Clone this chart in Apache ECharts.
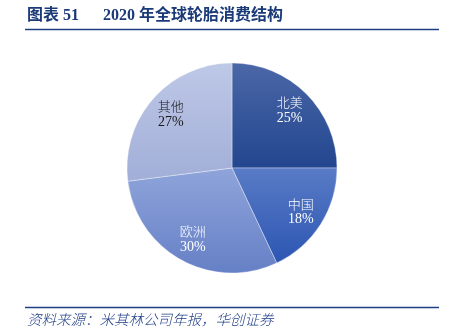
<!DOCTYPE html>
<html>
<head>
<meta charset="utf-8">
<script src="https://cdn.jsdelivr.net/npm/echarts@6/dist/echarts.min.js"></script>
<style>
html,body{margin:0;padding:0;background:#fff;}
#chart{width:454px;height:335px;}
</style>
</head>
<body>
<div id="chart"></div>
<script>
var categories = ['北美', '中国', '欧洲', '其他'];
var values = [25, 18, 30, 27];
var topColors = ['#4b67a7', '#5a7bc6', '#8ea4da', '#bec8e7'];
var bottomColors = ['#22468f', '#2b56b2', '#6680c6', '#a1aed7'];
var labelColors = ['#ffffff', '#ffffff', '#ffffff', '#1a1a1a'];

var chart = echarts.init(document.getElementById('chart'), null, {renderer: 'canvas'});

var fillData = categories.map(function (c, i) {
  return {
    name: c,
    value: values[i],
    itemStyle: {
      color: new echarts.graphic.LinearGradient(0, 0, 0, 1, [
        {offset: 0, color: topColors[i]},
        {offset: 1, color: bottomColors[i]}
      ])
    }
  };
});
var labelData = categories.map(function (c, i) {
  return {
    name: c,
    value: values[i],
    label: {
      rich: {
        n: {fontFamily: 'Noto Sans CJK SC', fontWeight: 300, fontSize: 13, color: labelColors[i], lineHeight: 16},
        p: {fontFamily: 'Liberation Serif', fontSize: 14, color: labelColors[i], lineHeight: 16}
      }
    }
  };
});

var titleColor = '#1b3a78';
chart.setOption({
  animation: false,
  graphic: [
    {type: 'text', left: 27, top: 8, style: {text: '图表 51', font: 'bold 16px "Liberation Serif", "Noto Sans CJK SC"', fill: titleColor}},
    {type: 'text', left: 103, top: 8, style: {text: '2020 年全球轮胎消费结构', font: 'bold 16px "Liberation Serif", "Noto Sans CJK SC"', fill: titleColor}},
    {type: 'line', shape: {x1: 25, y1: 29.5, x2: 439, y2: 29.5}, style: {stroke: '#1f3f80', lineWidth: 1.6}},
    {type: 'line', shape: {x1: 25, y1: 307.5, x2: 439, y2: 307.5}, style: {stroke: '#1f3f80', lineWidth: 1.6}},
    {type: 'text', left: 27, top: 312, style: {text: '资料来源：米其林公司年报，华创证券', font: 'italic 300 14.5px "Noto Sans CJK SC"', fill: '#23428a'}}
  ],
  series: [
    {
      type: 'pie',
      center: [232, 168],
      radius: [0, 105],
      startAngle: 90,
      clockwise: true,
      silent: true,
      label: {show: false},
      labelLine: {show: false},
      itemStyle: {borderColor: 'rgba(255,255,255,0.6)', borderWidth: 0.6},
      data: fillData
    },
    {
      type: 'pie',
      center: [232, 168],
      radius: [52, 105],
      startAngle: 90,
      clockwise: true,
      silent: true,
      itemStyle: {color: 'rgba(0,0,0,0)'},
      label: {show: true, position: 'inside', formatter: '{n|{b}}\n{p|{c}%}'},
      labelLine: {show: false},
      data: labelData
    }
  ]
});
</script>
</body>
</html>
